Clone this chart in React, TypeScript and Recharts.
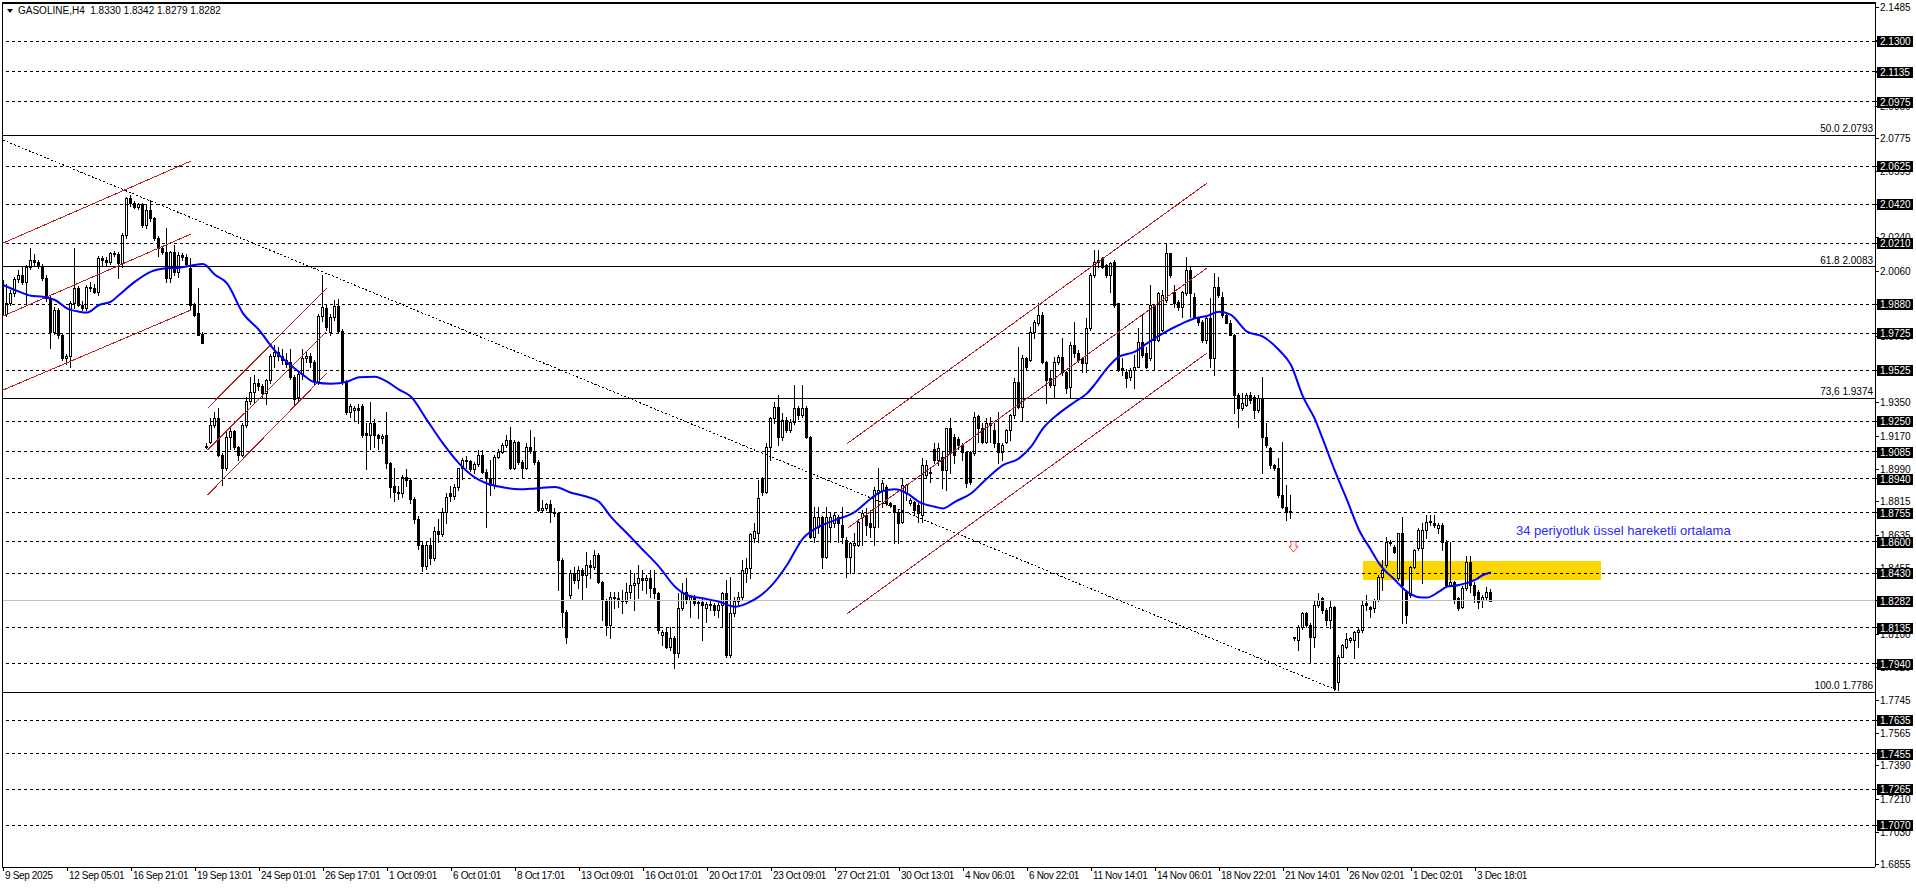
import React from 'react';
import { ComposedChart, Bar, Line, XAxis, YAxis, ReferenceLine, ReferenceArea, ReferenceDot } from 'recharts';

const FONT = '"Liberation Sans", Arial, sans-serif';

const symbol = 'GASOLINE,H4';

const opens = [
  2.0010,1.9830,1.9890,1.9940,2.0016,2.0039,2.0000,2.0084,2.0120,2.0110,
  2.0090,2.0020,1.9913,1.9733,1.9850,1.9715,1.9589,1.9600,1.9886,1.9967,
  1.9877,1.9859,1.9976,1.9967,1.9949,2.0129,2.0120,2.0110,2.0156,2.0150,
  2.0102,2.0255,2.0452,2.0425,2.0408,2.0420,2.0309,2.0390,2.0345,2.0237,
  2.0183,2.0165,2.0021,2.0165,2.0057,2.0147,2.0138,2.0075,1.9882,1.9832,
  1.9720,1.9115,1.9140,1.9230,1.9265,1.9067,1.8995,1.9167,1.9195,1.9112,
  1.9070,1.9230,1.9360,1.9405,1.9455,1.9440,1.9400,1.9470,1.9600,1.9625,
  1.9600,1.9580,1.9570,1.9490,1.9380,1.9505,1.9590,1.9600,1.9570,1.9465,
  1.9818,1.9860,1.9730,1.9810,1.9870,1.9735,1.9465,1.9300,1.9310,1.9320,
  1.9330,1.9185,1.9175,1.9240,1.9175,1.9160,1.9175,1.9022,1.8900,1.8870,
  1.8860,1.8950,1.8930,1.8830,1.8720,1.8580,1.8470,1.8580,1.8510,1.8660,
  1.8640,1.8760,1.8860,1.8845,1.8896,1.8995,1.9040,1.9035,1.8990,1.9020,
  1.9067,1.8977,1.8941,1.8905,1.9058,1.9085,1.9121,1.9148,1.8995,1.9139,
  1.9031,1.8995,1.9112,1.9090,1.9031,1.8770,1.8779,1.8803,1.8761,1.8755,
  1.8501,1.8222,1.8312,1.8429,1.8393,1.8447,1.8420,1.8474,1.8465,1.8528,
  1.8384,1.8285,1.8150,1.8303,1.8294,1.8285,1.8281,1.8330,1.8366,1.8375,
  1.8402,1.8393,1.8402,1.8348,1.8321,1.8096,1.8114,1.8033,1.8078,1.7997,
  1.8240,1.8330,1.8285,1.8303,1.8267,1.8276,1.8240,1.8262,1.8258,1.8231,
  1.8258,1.8321,1.7988,1.8213,1.8280,1.8300,1.8429,1.8456,1.8620,1.8645,
  1.8941,1.8869,1.9112,1.9265,1.9328,1.9166,1.9256,1.9200,1.9247,1.9319,
  1.9283,1.9319,1.9166,1.8626,1.8680,1.8734,1.8519,1.8680,1.8698,1.8734,
  1.8689,1.8608,1.8519,1.8581,1.8581,1.8734,1.8743,1.8698,1.8680,1.8860,
  1.8878,1.8896,1.8806,1.8797,1.8761,1.8707,1.8860,1.8806,1.8815,1.8797,
  1.8743,1.8959,1.8968,1.9098,1.9040,1.9058,1.8986,1.9211,1.9166,1.9152,
  1.9121,1.9085,1.9085,1.9076,1.9278,1.9211,1.9139,1.9229,1.9202,1.9130,
  1.9085,1.9139,1.9202,1.9283,1.9463,1.9328,1.9589,1.9580,1.9733,1.9778,
  1.9823,1.9571,1.9481,1.9445,1.9571,1.9598,1.9517,1.9436,1.9661,1.9616,
  1.9589,1.9562,1.9751,2.0039,2.0111,2.0129,2.0093,2.0039,2.0111,1.9886,
  1.9535,1.9517,1.9490,1.9526,1.9544,1.9679,1.9616,1.9589,1.9877,1.9688,
  1.9742,1.9904,2.0156,1.9949,1.9895,1.9868,1.9940,2.0066,1.9922,1.9805,
  1.9787,1.9688,1.9805,1.9589,1.9976,1.9922,1.9823,1.9778,1.9715,1.9391,
  1.9319,1.9337,1.9391,1.9382,1.9310,1.9373,1.9166,1.9103,1.9013,1.8995,
  1.8851,1.8788,1.8761,1.8078,1.8069,1.8141,1.8213,1.8150,1.8087,1.8258,
  1.8294,1.8231,1.8177,1.8249,1.7844,1.7979,1.8033,1.8069,1.8069,1.8114,
  1.8123,1.8267,1.8249,1.8240,1.8285,1.8411,1.8474,1.8600,1.8573,1.8402,
  1.8645,1.8330,1.8312,1.8465,1.8564,1.8564,1.8663,1.8710,1.8700,1.8672,
  1.8690,1.8600,1.8366,1.8384,1.8294,1.8249,1.8348,1.8492,1.8366,1.8330,
  1.8285,1.8303,1.8330,
];

const highs = [
  2.0066,1.9990,1.9960,2.0030,2.0066,2.0084,2.0095,2.0183,2.0150,2.0120,
  2.0100,2.0040,1.9925,1.9868,1.9860,1.9720,1.9610,1.9900,2.0183,1.9980,
  1.9900,1.9985,2.0000,1.9990,2.0140,2.0140,2.0135,2.0165,2.0170,2.0165,
  2.0265,2.0460,2.0470,2.0440,2.0425,2.0425,2.0420,2.0445,2.0350,2.0250,
  2.0190,2.0291,2.0170,2.0200,2.0165,2.0160,2.0150,2.0130,1.9890,1.9967,
  1.9730,1.9130,1.9265,1.9300,1.9320,1.9080,1.9200,1.9220,1.9205,1.9115,
  1.9240,1.9380,1.9490,1.9500,1.9480,1.9450,1.9480,1.9610,1.9660,1.9650,
  1.9640,1.9620,1.9640,1.9500,1.9520,1.9640,1.9630,1.9620,1.9580,1.9830,
  2.0040,1.9880,1.9830,1.9905,1.9910,1.9745,1.9470,1.9340,1.9330,1.9340,
  1.9340,1.9240,1.9355,1.9260,1.9180,1.9180,1.9300,1.9030,1.9000,1.8900,
  1.8960,1.8990,1.8940,1.8840,1.8740,1.8600,1.8600,1.8620,1.8680,1.8720,
  1.8780,1.8860,1.8900,1.8910,1.9000,1.9050,1.9060,1.9040,1.9030,1.9094,
  1.9094,1.8990,1.9040,1.9070,1.9100,1.9130,1.9175,1.9220,1.9150,1.9145,
  1.9040,1.9130,1.9202,1.9166,1.9040,1.8824,1.8810,1.8824,1.8780,1.8761,
  1.8510,1.8230,1.8447,1.8465,1.8470,1.8460,1.8546,1.8501,1.8555,1.8537,
  1.8390,1.8290,1.8330,1.8330,1.8330,1.8339,1.8375,1.8447,1.8429,1.8474,
  1.8447,1.8420,1.8447,1.8447,1.8330,1.8123,1.8141,1.8141,1.8090,1.8321,
  1.8375,1.8402,1.8312,1.8310,1.8280,1.8290,1.8275,1.8280,1.8270,1.8270,
  1.8330,1.8393,1.8411,1.8300,1.8330,1.8501,1.8510,1.8645,1.8698,1.8932,
  1.8950,1.9130,1.9270,1.9355,1.9391,1.9292,1.9270,1.9260,1.9445,1.9330,
  1.9445,1.9330,1.9170,1.8788,1.8788,1.8740,1.8788,1.8752,1.8760,1.8745,
  1.8788,1.8626,1.8600,1.8644,1.8720,1.8770,1.8779,1.8770,1.8896,1.8995,
  1.8932,1.8905,1.8815,1.8800,1.8770,1.8941,1.8910,1.8835,1.8820,1.8806,
  1.9049,1.9040,1.8995,1.9130,1.9130,1.9085,1.9211,1.9265,1.9180,1.9166,
  1.9130,1.9090,1.9090,1.9301,1.9283,1.9238,1.9265,1.9274,1.9238,1.9301,
  1.9130,1.9210,1.9290,1.9481,1.9652,1.9607,1.9598,1.9760,1.9796,1.9886,
  1.9841,1.9575,1.9526,1.9598,1.9607,1.9697,1.9520,1.9679,1.9787,1.9634,
  1.9598,1.9805,2.0048,2.0174,2.0174,2.0138,2.0100,2.0110,2.0120,1.9890,
  1.9589,1.9530,1.9535,1.9607,1.9751,1.9823,1.9652,1.9985,1.9880,1.9949,
  1.9958,2.0210,2.0160,1.9985,1.9904,1.9955,2.0138,2.0084,1.9940,1.9814,
  1.9796,1.9810,1.9913,2.0048,2.0030,1.9949,1.9841,1.9796,1.9720,1.9400,
  1.9400,1.9400,1.9409,1.9390,1.9391,1.9490,1.9238,1.9112,1.9020,1.9049,
  1.9139,1.8905,1.8851,1.8087,1.8150,1.8222,1.8222,1.8159,1.8285,1.8321,
  1.8300,1.8240,1.8285,1.8252,1.7988,1.8050,1.8105,1.8087,1.8120,1.8141,
  1.8285,1.8312,1.8250,1.8290,1.8420,1.8501,1.8627,1.8610,1.8580,1.8645,
  1.8735,1.8340,1.8470,1.8560,1.8672,1.8700,1.8744,1.8744,1.8744,1.8700,
  1.8700,1.8610,1.8600,1.8390,1.8300,1.8360,1.8520,1.8520,1.8380,1.8340,
  1.8310,1.8357,1.8342,
];

const lows = [
  1.9769,1.9815,1.9875,1.9925,2.0000,1.9990,1.9877,2.0070,2.0085,2.0075,
  2.0010,1.9900,1.9643,1.9720,1.9700,1.9580,1.9560,1.9544,1.9859,1.9870,
  1.9850,1.9850,1.9950,1.9940,1.9930,2.0095,2.0090,2.0100,2.0140,2.0021,
  2.0084,2.0240,2.0410,2.0400,2.0395,2.0300,2.0291,2.0330,2.0230,2.0140,
  2.0150,2.0000,2.0000,2.0040,2.0030,2.0120,2.0090,1.9850,1.9820,1.9715,
  1.9670,1.9105,1.9130,1.9220,1.9060,1.8905,1.8985,1.9100,1.9100,1.9040,
  1.9060,1.9220,1.9340,1.9350,1.9420,1.9380,1.9340,1.9455,1.9540,1.9580,
  1.9560,1.9540,1.9480,1.9330,1.9360,1.9480,1.9570,1.9540,1.9450,1.9450,
  1.9790,1.9740,1.9715,1.9795,1.9730,1.9450,1.9290,1.9270,1.9250,1.9240,
  1.9165,1.8990,1.9100,1.9110,1.9100,1.9130,1.9000,1.8843,1.8820,1.8830,
  1.8840,1.8900,1.8810,1.8700,1.8560,1.8440,1.8450,1.8480,1.8500,1.8600,
  1.8630,1.8700,1.8820,1.8830,1.8880,1.8940,1.9000,1.8980,1.8970,1.9010,
  1.8970,1.8681,1.8851,1.8890,1.9050,1.9080,1.9110,1.8990,1.8990,1.9020,
  1.8950,1.8990,1.9080,1.9020,1.8765,1.8760,1.8770,1.8707,1.8740,1.8339,
  1.8141,1.8051,1.8294,1.8375,1.8350,1.8285,1.8357,1.8402,1.8450,1.8375,
  1.8177,1.8096,1.8078,1.8240,1.8249,1.8213,1.8267,1.8294,1.8231,1.8294,
  1.8339,1.8321,1.8303,1.8294,1.8105,1.8042,1.8025,1.8015,1.7916,1.7979,
  1.8231,1.8267,1.8195,1.8258,1.8186,1.8069,1.8168,1.8230,1.8204,1.8195,
  1.8141,1.7979,1.7980,1.8200,1.8250,1.8290,1.8380,1.8402,1.8600,1.8600,
  1.8851,1.8860,1.9040,1.9240,1.9121,1.9150,1.9190,1.9190,1.9235,1.9260,
  1.9270,1.9160,1.8620,1.8600,1.8644,1.8456,1.8510,1.8599,1.8680,1.8599,
  1.8590,1.8411,1.8429,1.8429,1.8575,1.8581,1.8635,1.8626,1.8581,1.8680,
  1.8788,1.8797,1.8788,1.8590,1.8590,1.8700,1.8824,1.8800,1.8743,1.8707,
  1.8707,1.8950,1.8923,1.9022,1.9013,1.8887,1.8878,1.8968,1.9022,1.9100,
  1.9040,1.8896,1.8910,1.9067,1.9139,1.9130,1.9130,1.9139,1.9112,1.9022,
  1.9040,1.9130,1.9148,1.9265,1.9320,1.9256,1.9526,1.9575,1.9697,1.9769,
  1.9562,1.9346,1.9436,1.9382,1.9560,1.9499,1.9400,1.9382,1.9598,1.9570,
  1.9517,1.9517,1.9742,2.0030,2.0084,2.0075,2.0030,1.9949,1.9868,1.9520,
  1.9499,1.9436,1.9472,1.9427,1.9540,1.9598,1.9535,1.9580,1.9526,1.9680,
  1.9735,1.9895,2.0030,1.9868,1.9850,1.9814,1.9931,1.9814,1.9805,1.9769,
  1.9679,1.9670,1.9544,1.9499,1.9922,1.9814,1.9778,1.9715,1.9292,1.9220,
  1.9310,1.9330,1.9346,1.9265,1.9300,1.8968,1.9112,1.8995,1.8986,1.8842,
  1.8779,1.8716,1.8725,1.8069,1.8015,1.8130,1.8141,1.7943,1.8033,1.8249,
  1.8213,1.8150,1.8132,1.7799,1.7799,1.7979,1.8024,1.8060,1.7970,1.8033,
  1.8114,1.8231,1.8195,1.8222,1.8280,1.8339,1.8465,1.8580,1.8537,1.8393,
  1.8159,1.8159,1.8303,1.8455,1.8555,1.8375,1.8620,1.8690,1.8680,1.8645,
  1.8555,1.8357,1.8360,1.8267,1.8231,1.8240,1.8340,1.8330,1.8276,1.8240,
  1.8249,1.8290,1.8279,
];

const closes = [
  1.9830,1.9890,1.9940,2.0016,2.0039,2.0000,2.0084,2.0120,2.0110,2.0090,
  2.0020,1.9913,1.9733,1.9850,1.9715,1.9589,1.9600,1.9886,1.9967,1.9877,
  1.9859,1.9976,1.9967,1.9949,2.0129,2.0120,2.0110,2.0156,2.0150,2.0102,
  2.0255,2.0452,2.0425,2.0408,2.0420,2.0309,2.0390,2.0345,2.0237,2.0183,
  2.0165,2.0021,2.0165,2.0057,2.0147,2.0138,2.0100,1.9877,1.9823,1.9715,
  1.9674,1.9110,1.9230,1.9265,1.9067,1.8995,1.9167,1.9195,1.9112,1.9070,
  1.9230,1.9360,1.9405,1.9455,1.9440,1.9400,1.9470,1.9600,1.9625,1.9600,
  1.9580,1.9560,1.9490,1.9370,1.9505,1.9590,1.9600,1.9570,1.9465,1.9818,
  1.9865,1.9760,1.9810,1.9870,1.9735,1.9465,1.9300,1.9330,1.9320,1.9310,
  1.9175,1.9175,1.9240,1.9175,1.9160,1.9170,1.9022,1.8895,1.8870,1.8860,
  1.8950,1.8930,1.8830,1.8720,1.8580,1.8470,1.8580,1.8510,1.8660,1.8640,
  1.8760,1.8840,1.8845,1.8896,1.8995,1.9040,1.9035,1.8990,1.9020,1.9067,
  1.8977,1.8941,1.8905,1.9058,1.9085,1.9121,1.9148,1.8995,1.9139,1.9031,
  1.8995,1.9112,1.9090,1.9031,1.8770,1.8779,1.8803,1.8761,1.8755,1.8501,
  1.8222,1.8087,1.8429,1.8393,1.8447,1.8420,1.8474,1.8465,1.8528,1.8384,
  1.8285,1.8150,1.8303,1.8294,1.8285,1.8281,1.8330,1.8366,1.8375,1.8402,
  1.8393,1.8402,1.8348,1.8321,1.8123,1.8114,1.8033,1.8078,1.7997,1.8240,
  1.8330,1.8285,1.8303,1.8267,1.8276,1.8258,1.8262,1.8258,1.8231,1.8258,
  1.8321,1.7988,1.8213,1.8280,1.8300,1.8447,1.8456,1.8640,1.8660,1.8833,
  1.8869,1.9112,1.9265,1.9328,1.9166,1.9256,1.9200,1.9247,1.9319,1.9283,
  1.9319,1.9166,1.8627,1.8734,1.8734,1.8519,1.8734,1.8734,1.8743,1.8698,
  1.8626,1.8519,1.8590,1.8590,1.8707,1.8752,1.8689,1.8680,1.8878,1.8878,
  1.8914,1.8806,1.8797,1.8761,1.8698,1.8905,1.8905,1.8824,1.8770,1.8752,
  1.9013,1.9013,1.8977,1.9040,1.9103,1.8986,1.9211,1.9076,1.9067,1.9121,
  1.9085,1.8914,1.8923,1.9274,1.9211,1.9139,1.9238,1.9238,1.9130,1.9085,
  1.9121,1.9202,1.9283,1.9463,1.9328,1.9589,1.9544,1.9733,1.9787,1.9823,
  1.9571,1.9472,1.9445,1.9571,1.9598,1.9517,1.9427,1.9661,1.9616,1.9580,
  1.9562,1.9751,2.0039,2.0111,2.0120,2.0084,2.0039,2.0102,1.9877,1.9526,
  1.9526,1.9481,1.9526,1.9544,1.9679,1.9607,1.9544,1.9877,1.9688,1.9940,
  1.9931,2.0156,2.0039,1.9886,1.9868,1.9949,2.0066,1.9940,1.9814,1.9787,
  1.9688,1.9805,1.9589,1.9976,1.9931,1.9823,1.9778,1.9715,1.9391,1.9319,
  1.9346,1.9391,1.9364,1.9310,1.9373,1.9166,1.9121,1.9013,1.8995,1.8851,
  1.8788,1.8761,1.8765,1.8084,1.8141,1.8213,1.8150,1.8087,1.8258,1.8285,
  1.8231,1.8177,1.8249,1.7808,1.7979,1.8042,1.8072,1.8078,1.8114,1.8123,
  1.8258,1.8258,1.8235,1.8285,1.8411,1.8447,1.8600,1.8590,1.8546,1.8645,
  1.8366,1.8204,1.8465,1.8555,1.8663,1.8663,1.8708,1.8705,1.8690,1.8690,
  1.8600,1.8366,1.8380,1.8285,1.8240,1.8348,1.8492,1.8366,1.8312,1.8276,
  1.8303,1.8330,1.8282,
];

// 34-period EMA: [bar index, value]
const emaPoints: [number, number][] = [
  [0,1.9985],[4,1.9949],[7,1.9927],[10,1.9922],[13,1.9904],[16,1.9859],[19,1.9841],[21,1.9836],
  [24,1.9877],[27,1.9895],[29,1.9931],[33,2.0003],[37,2.0057],[41,2.0075],[44,2.0078],[47,2.0089],
  [50,2.0098],[53,2.0040],[56,1.9994],[60,1.9832],[64,1.9742],[68,1.9630],[72,1.9550],[75,1.9500],
  [78,1.9460],[82,1.9452],[86,1.9463],[89,1.9487],[93,1.9490],[96,1.9463],[99,1.9420],[102,1.9382],
  [106,1.9256],[110,1.9130],[114,1.9022],[118,1.8945],[121,1.8914],[125,1.8893],[129,1.8882],[133,1.8887],
  [138,1.8895],[142,1.8864],[146,1.8842],[149,1.8815],[152,1.8734],[156,1.8645],[160,1.8555],[164,1.8465],
  [168,1.8357],[171,1.8312],[175,1.8294],[179,1.8276],[183,1.8249],[186,1.8267],[189,1.8303],[192,1.8360],
  [196,1.8474],[200,1.8618],[204,1.8681],[208,1.8716],[213,1.8761],[217,1.8833],[220,1.8873],[223,1.8882],
  [226,1.8860],[229,1.8815],[233,1.8788],[235,1.8779],[238,1.8815],[242,1.8860],[246,1.8941],[250,1.9013],
  [254,1.9049],[257,1.9112],[260,1.9211],[264,1.9292],[268,1.9355],[271,1.9400],[273,1.9450],[276,1.9535],
  [279,1.9598],[283,1.9625],[286,1.9670],[290,1.9724],[294,1.9769],[298,1.9805],[301,1.9818],[304,1.9841],
  [307,1.9823],[311,1.9733],[315,1.9706],[319,1.9634],[322,1.9553],[325,1.9382],[328,1.9260],[330,1.9150],
  [333,1.8980],[336,1.8825],[339,1.8663],[342,1.8555],[344,1.8483],[348,1.8393],[351,1.8330],[354,1.8300],
  [356,1.8298],[359,1.8330],[361,1.8357],[364,1.8366],[368,1.8393],[370,1.8420],[372,1.8433],
];

const dateTickIndex = [0,16,32,48,64,80,96,112,128,144,160,176,192,208,224,240,256,272,288,304,320,336,352,368];
const dateLabels = [
  '9 Sep 2025','12 Sep 05:01','16 Sep 21:01','19 Sep 13:01','24 Sep 01:01','26 Sep 17:01',
  '1 Oct 09:01','6 Oct 01:01','8 Oct 17:01','13 Oct 09:01','16 Oct 01:01','20 Oct 17:01',
  '23 Oct 09:01','27 Oct 21:01','30 Oct 13:01','4 Nov 06:01','6 Nov 22:01','11 Nov 14:01',
  '14 Nov 06:01','18 Nov 22:01','21 Nov 14:01','26 Nov 02:01','1 Dec 02:01','3 Dec 18:01',
];

const priceTicks = [
  2.1485,2.1305,2.1130,2.0950,2.0775,2.0595,2.0420,2.0240,2.0060,1.9880,1.9705,1.9525,1.9350,
  1.9170,1.8990,1.8815,1.8635,1.8455,1.8280,1.8100,1.7920,1.7745,1.7565,1.7390,1.7210,1.7030,1.6855,
];

const dashedLevels = [
  2.1300,2.1135,2.0975,2.0625,2.0420,2.0210,1.9880,1.9725,1.9525,1.9250,1.9085,
  1.8940,1.8755,1.8600,1.8430,1.8135,1.7940,1.7635,1.7455,1.7265,1.7070,
];
const fibPercents = ['50.0','61.8','73,6','100.0'];
const fibValues = [2.0793,2.0083,1.9374,1.7786];
const lastPrice = 1.8282;

// channel lines: [bar1, price1, bar2, price2]
const channelLines: [number, number, number, number][] = [
  [0,2.0211,47,2.0654],[0,1.9817,47,2.0260],[0,1.9418,47,1.9850],
  [51.1,1.9319,80.9,1.9967],[51.1,1.9094,80.9,1.9733],[51.1,1.8851,80.9,1.9508],
  [211.1,1.9130,300.9,2.0533],[211.1,1.8672,300.9,2.0075],[211.1,1.8212,300.9,1.9616],
];
const trendLine: [number, number, number, number] = [0,2.0767,333.4,1.7799];
const zoneBars = [340, 399.5];
const zonePrices = [1.8393, 1.8495];
const arrowAt = [322.5, 1.8571];
const noteText = '34 periyotluk üssel hareketli ortalama';
const noteAt = [378.25, 1.8663];

const xDomain = [-0.25, 468];
const yDomain = [1.68442, 2.15066];

// axis ticks: ordinary scale ticks first, then tagged levels (drawn on top)
const axisTicks = [...priceTicks, ...dashedLevels, lastPrice];
const plainTickCount = priceTicks.length;

const emaLookup = new Map<number, number>(emaPoints.map(([k, v]) => [k, v]));
const rows = closes.map((c, i) => ({
  i,
  o: opens[i],
  h: highs[i],
  l: lows[i],
  c,
  range: [lows[i], highs[i]],
  ema: emaLookup.has(i) ? emaLookup.get(i) : null,
}));
const last = closes.length - 1;

function Candle(props: any) {
  const { x, y, width, height, payload } = props;
  if (!payload || x == null || y == null || height == null) return null;
  const { o, h, l, c } = payload;
  const top = Math.min(y, y + height);
  const hgt = Math.abs(height);
  const k = h > l ? hgt / (h - l) : 0;
  const py = (v: number) => top + (h - v) * k;
  const cx = Math.floor(x + width / 2) + 0.5;
  const yH = Math.round(py(h));
  const yL = Math.round(py(l));
  const bTop = Math.round(py(Math.max(o, c)));
  const bBot = Math.round(py(Math.min(o, c)));
  const bull = c > o;
  return (
    <g>
      <line x1={cx} x2={cx} y1={yH} y2={yL + 1} stroke="#000" strokeWidth={1} />
      {bBot - bTop >= 1 ? (
        <rect x={cx - 1} y={bTop + 0.5} width={2} height={bBot - bTop} fill={bull ? '#fff' : '#000'} stroke="#000" strokeWidth={1} />
      ) : (
        <line x1={cx - 1.5} x2={cx + 1.5} y1={bTop + 0.5} y2={bTop + 0.5} stroke="#000" strokeWidth={1} />
      )}
    </g>
  );
}

function PriceTick(props: any) {
  const { x, y, payload, index } = props;
  const label = Number(payload.value).toFixed(4);
  if (index >= plainTickCount) {
    const yy = Math.round(y);
    return (
      <g>
        <rect x={x - 4} y={yy - 5} width={36} height={11} fill="#000" />
        <text x={x - 1} y={yy + 4} fontSize={10} fontFamily={FONT} fill="#fff" textAnchor="start">{label}</text>
      </g>
    );
  }
  return (
    <text x={x - 1} y={y} dy={3.5} fontSize={10} fontFamily={FONT} fill="#000" textAnchor="start">
      {label}
    </text>
  );
}

function DateTick(props: any) {
  const { x, y, payload } = props;
  const k = dateTickIndex.indexOf(payload.value);
  return (
    <text x={x + 2} y={y + 6} fontSize={10} letterSpacing={-0.35} fontFamily={FONT} fill="#000" textAnchor="start">
      {k >= 0 ? dateLabels[k] : ''}
    </text>
  );
}

const fibTag = (text: string) => (props: any) => {
  const vb = props.viewBox || {};
  return (
    <text x={vb.x + vb.width - 2} y={Math.round(vb.y) - 3} textAnchor="end" fontSize={10} fontFamily={FONT} fill="#000">
      {text}
    </text>
  );
};

const css = `
.mt4 .recharts-reference-line-line, .mt4 .recharts-cartesian-axis-line, .mt4 .recharts-cartesian-axis-tick-line { shape-rendering: crispEdges; }
`;

export default function App() {
  const header = `${symbol}  ${opens[last].toFixed(4)} ${highs[last].toFixed(4)} ${lows[last].toFixed(4)} ${closes[last].toFixed(4)}`;
  return (
    <div className="mt4" style={{ position: 'fixed', left: 0, top: 0, width: 1916, height: 888, background: '#fff', overflow: 'hidden' }}>
      <style>{css}</style>
      <ComposedChart width={1916} height={888} data={rows} margin={{ top: 3, right: 0, bottom: 0, left: 2 }}>
        <XAxis
          dataKey="i"
          type="number"
          domain={xDomain}
          allowDataOverflow
          ticks={dateTickIndex}
          interval={0}
          height={21}
          tickSize={4}
          tickMargin={2}
          tickLine={{ stroke: '#000' }}
          axisLine={{ stroke: '#000' }}
          tick={<DateTick />}
        />
        <YAxis
          orientation="right"
          type="number"
          domain={yDomain}
          allowDataOverflow
          ticks={axisTicks}
          interval={0}
          width={41}
          tickSize={4}
          tickMargin={2}
          tickLine={{ stroke: '#000' }}
          axisLine={{ stroke: '#000' }}
          tick={<PriceTick />}
        />
        <ReferenceArea x1={zoneBars[0]} x2={zoneBars[1]} y1={zonePrices[0]} y2={zonePrices[1]} fill="#FFD700" fillOpacity={1} stroke="none" />
        {dashedLevels.map((v) => (
          <ReferenceLine key={'d' + v} y={v} stroke="#000" strokeWidth={1} strokeDasharray="3 3" />
        ))}
        {fibValues.map((v, k) => (
          <ReferenceLine key={'f' + v} y={v} stroke="#000" strokeWidth={1} label={fibTag(`${fibPercents[k]} ${v.toFixed(4)}`)} />
        ))}
        <ReferenceLine y={lastPrice} stroke="#c0c0c0" strokeWidth={1} />
        <ReferenceLine
          segment={[{ x: trendLine[0], y: trendLine[1] }, { x: trendLine[2], y: trendLine[3] }]}
          stroke="#000"
          strokeWidth={1}
          strokeDasharray="2 2"
        />
        {channelLines.map((s, k) => (
          <ReferenceLine key={'c' + k} segment={[{ x: s[0], y: s[1] }, { x: s[2], y: s[3] }]} stroke="#B22222" strokeWidth={1} />
        ))}
        <Bar dataKey="range" barSize={3} shape={Candle} isAnimationActive={false} />
        <Line dataKey="ema" type="monotone" stroke="#0000FF" strokeWidth={2} dot={false} activeDot={false} connectNulls isAnimationActive={false} />
        <ReferenceDot
          x={arrowAt[0]}
          y={arrowAt[1]}
          r={0}
          shape={(p: any) => (
            <path
              d={`M${Math.round(p.cx) - 2},${Math.round(p.cy) - 5.5} h5 v5 h2 l-4.5,5.5 l-4.5,-5.5 h2 z`}
              fill="#fff"
              stroke="#ff4a4a"
              strokeWidth={1}
            />
          )}
        />
        <ReferenceDot
          x={noteAt[0]}
          y={noteAt[1]}
          r={0}
          shape={(p: any) => (
            <text x={p.cx} y={p.cy + 5} fontSize={13} fontFamily={FONT} fill="#2a2aff">{noteText}</text>
          )}
        />
      </ComposedChart>
      <svg width={1916} height={888} style={{ position: 'absolute', left: 0, top: 0, pointerEvents: 'none' }}>
        <rect x={2} y={2} width={1874} height={2} fill="#000" />
        <rect x={2} y={2} width={1} height={866} fill="#000" />
        <path d="M7,9 L13,9 L10,13 Z" fill="#000" />
        <text x={18} y={14} fontSize={10} fontFamily={FONT} fill="#000" style={{ whiteSpace: 'pre' }}>{header}</text>
      </svg>
    </div>
  );
}
